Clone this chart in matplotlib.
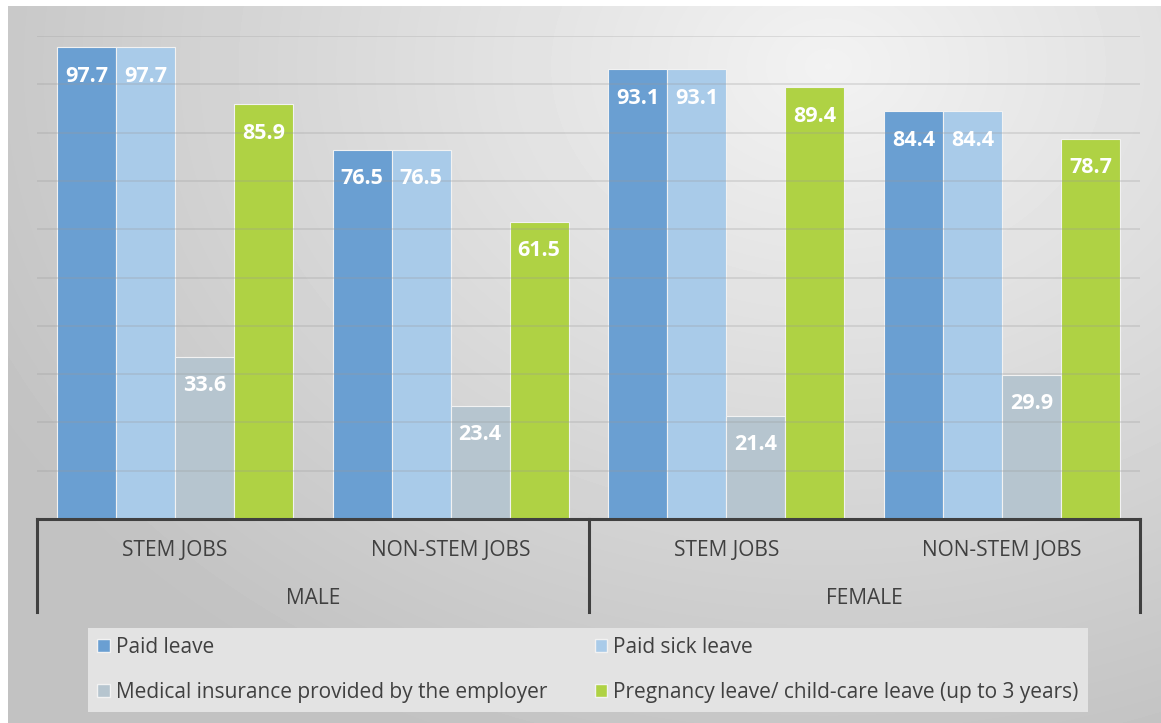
import numpy as np
import matplotlib.pyplot as plt
from matplotlib.transforms import blended_transform_factory
from matplotlib.patches import Patch

plt.rcParams['font.family'] = ['Open Sans', 'DejaVu Sans']

jobs = ["STEM JOBS", "NON-STEM JOBS", "STEM JOBS", "NON-STEM JOBS"]
genders = ["MALE", "FEMALE"]
series = ["Paid leave", "Paid sick leave",
          "Medical insurance provided by the employer",
          "Pregnancy leave/ child-care leave (up to 3 years)"]
paid_leave = [97.7, 76.5, 93.1, 84.4]
paid_sick = [97.7, 76.5, 93.1, 84.4]
medical = [33.6, 23.4, 21.4, 29.9]
pregnancy = [85.9, 61.5, 89.4, 78.7]
colors = ["#6a9fd2", "#a9cbe9", "#b6c5cf", "#afd244"]

W, H = 1161, 723
fig = plt.figure(figsize=(W / 100, H / 100), dpi=100)
fig.patch.set_facecolor("white")

# gradient backdrop of the chart area
bg = fig.add_axes([8 / W, 0, 1 - 8 / W, 1 - 6 / H], zorder=-5)
yy, xx = np.mgrid[0:717, 0:1153]
d = np.sqrt(((xx - 820) / 1.0) ** 2 + ((yy - 60) * 1.3) ** 2)
d = np.clip(d / 950, 0, 1)
shade = 0.95 - 0.19 * d
bg.imshow(shade, cmap="gray", vmin=0, vmax=1, aspect="auto",
          extent=[0, 1, 0, 1])
bg.set_axis_off()

ax = fig.add_axes([37 / W, 1 - 519 / H, 1103 / W, 483 / H])
ax.set_facecolor("none")
x = np.arange(len(jobs))
bw = 0.214
for i, vals in enumerate([paid_leave, paid_sick, medical, pregnancy]):
    pos = x + (i - 1.5) * bw
    ax.bar(pos, vals, bw, color=colors[i], edgecolor="#f2f2f2",
           linewidth=0.8, zorder=2, label=series[i])
    for p, v in zip(pos, vals):
        ax.text(p, v - 6.0, f"{v}", ha="center", va="center", color="white",
                fontsize=15.5, fontweight="bold", zorder=4)

for g in range(10, 101, 10):
    ax.axhline(g, color="#9a9a9a", alpha=0.3, lw=1.2, zorder=3)

ax.set_xlim(-0.5, 3.5)
ax.set_ylim(0, 100)
ax.set_xticks([])
ax.set_yticks([])
for s in ax.spines.values():
    s.set_visible(False)

tr = blended_transform_factory(ax.transData, ax.transAxes)
px = 1 / 483
ax.plot([-0.5, 3.5], [0, 0], color="#404040", lw=2.2, transform=tr,
        clip_on=False, zorder=5)
for xv in [-0.5, 1.5, 3.5]:
    ax.plot([xv, xv], [0, -93 * px], color="#404040", lw=2.2,
            transform=tr, clip_on=False)
for xi, lab in zip(x, jobs):
    ax.text(xi, -31 * px, lab, ha="center", va="center", fontsize=15,
            color="#404040", transform=tr)
for gi, lab in enumerate(genders):
    ax.text(2 * gi + 0.5, -79 * px, lab, ha="center", va="center",
            fontsize=15, color="#404040", transform=tr)

# legend is filled column by column, so reorder to get row-wise entries
order = [0, 2, 1, 3]
handles = [Patch(facecolor=colors[k], edgecolor="#f2f2f2") for k in order]
labels = [series[k] for k in order]
leg = fig.legend(handles, labels, ncol=2, loc="lower left", mode="expand",
                 bbox_to_anchor=(88 / W, 11 / H, 1000 / W, 86 / H),
                 fontsize=15, handlelength=0.6, handleheight=0.6,
                 handletextpad=0.3, labelspacing=1.13, borderpad=0.45,
                 borderaxespad=0, fancybox=False, labelcolor="#404040")
leg.get_frame().set_facecolor("#e3e3e3")
leg.get_frame().set_edgecolor("none")
leg.get_frame().set_alpha(1)

fig.savefig("out.png", dpi=100)
